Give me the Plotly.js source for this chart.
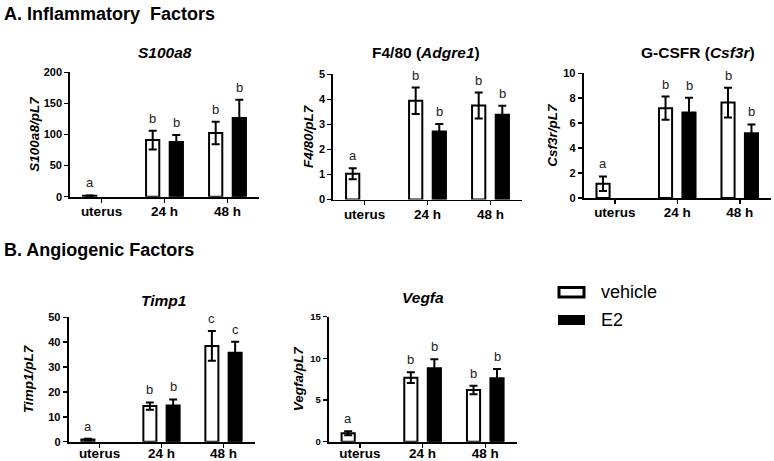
<!DOCTYPE html>
<html>
<head>
<meta charset="utf-8">
<script src="https://cdn.plot.ly/plotly-3.0.1.min.js"></script>
<style>html,body{margin:0;padding:0;background:#fff;}#chart{width:774px;height:461px;}</style>
</head>
<body>
<div id="chart"></div>
<script>
// ---------- data ----------
const categories = ['uterus', '24 h', '48 h'];

const s100a8Vehicle = [1.5, 91, 102.5];
const s100a8VehicleErr = [0.5, 15, 18];
const s100a8E2 = [null, 88, 126.5];
const s100a8E2Err = [null, 11, 29.5];
const s100a8VehicleLetters = ['a', 'b', 'b'];
const s100a8E2Letters = ['', 'b', 'b'];

const adgre1Vehicle = [1.03, 3.94, 3.75];
const adgre1VehicleErr = [0.22, 0.53, 0.52];
const adgre1E2 = [null, 2.72, 3.38];
const adgre1E2Err = [null, 0.3, 0.36];
const adgre1VehicleLetters = ['a', 'b', 'b'];
const adgre1E2Letters = ['', 'b', 'b'];

const csf3rVehicle = [1.15, 7.2, 7.65];
const csf3rVehicleErr = [0.58, 0.93, 1.2];
const csf3rE2 = [null, 6.85, 5.2];
const csf3rE2Err = [null, 1.18, 0.7];
const csf3rVehicleLetters = ['a', 'b', 'b'];
const csf3rE2Letters = ['', 'b', 'b'];

const timp1Vehicle = [0.9, 14.3, 38.5];
const timp1VehicleErr = [0.3, 1.5, 6];
const timp1E2 = [null, 14.6, 35.8];
const timp1E2Err = [null, 2.4, 4.4];
const timp1VehicleLetters = ['a', 'b', 'c'];
const timp1E2Letters = ['', 'b', 'c'];

const vegfaVehicle = [1.0, 7.68, 6.2];
const vegfaVehicleErr = [0.24, 0.64, 0.52];
const vegfaE2 = [null, 8.8, 7.6];
const vegfaE2Err = [null, 1.08, 1.12];
const vegfaVehicleLetters = ['a', 'b', 'b'];
const vegfaE2Letters = ['', 'b', 'b'];

const seriesNames = ['vehicle', 'E2'];
const yTitles = ['S100a8/pL7', 'F4/80/pL7', 'Csf3r/pL7', 'Timp1/pL7', 'Vegfa/pL7'];
const yMax = [200, 5, 10, 50, 15];
const yDtick = [50, 1, 2, 10, 5];

// ---------- layout helpers ----------
const W = 774, H = 461;
const px = v => v / W;
const py = v => 1 - v / H;
const FONT = 'Liberation Sans, Arial, Helvetica, sans-serif';

const panels = [
  {v: s100a8Vehicle, ve: s100a8VehicleErr, e: s100a8E2, ee: s100a8E2Err, vl: s100a8VehicleLetters, el: s100a8E2Letters,
   xd: [70, 259], yd: [196.7, 72.3], standoff: 1, tickSize: 11, xso: -3},
  {v: adgre1Vehicle, ve: adgre1VehicleErr, e: adgre1E2, ee: adgre1E2Err, vl: adgre1VehicleLetters, el: adgre1E2Letters,
   xd: [333, 522], yd: [199.5, 74.3], standoff: 2, tickSize: 11, xso: -3},
  {v: csf3rVehicle, ve: csf3rVehicleErr, e: csf3rE2, ee: csf3rE2Err, vl: csf3rVehicleLetters, el: csf3rE2Letters,
   xd: [583.5, 771], yd: [198, 73.3], standoff: 2, tickSize: 11, xso: -3},
  {v: timp1Vehicle, ve: timp1VehicleErr, e: timp1E2, ee: timp1E2Err, vl: timp1VehicleLetters, el: timp1E2Letters,
   xd: [68.5, 254.5], yd: [441.7, 317.3], standoff: 11, tickSize: 11, xso: -6},
  {v: vegfaVehicle, ve: vegfaVehicleErr, e: vegfaE2, ee: vegfaE2Err, vl: vegfaVehicleLetters, el: vegfaE2Letters,
   xd: [328.6, 516.6], yd: [441.7, 316.7], standoff: 3, tickSize: 9.5, xso: -6}
];

const traces = [];
const annotations = [];
const layout = {
  width: W, height: H,
  margin: {l: 0, r: 0, t: 0, b: 0},
  paper_bgcolor: '#fff', plot_bgcolor: '#fff',
  showlegend: false,
  barmode: 'group', bargap: 0.25, bargroupgap: 0.44,
  font: {family: FONT, color: '#000'},
  shapes: []
};

panels.forEach((p, i) => {
  const n = i === 0 ? '' : String(i + 1);
  const xa = 'x' + n, ya = 'y' + n;
  const errStyle = {type: 'data', visible: true, color: '#000', thickness: 2, width: 4};
  traces.push({
    type: 'bar', name: seriesNames[0], x: categories, y: p.v, xaxis: xa, yaxis: ya,
    marker: {color: '#fff', line: {color: '#000', width: 2}},
    error_y: Object.assign({array: p.ve}, errStyle), hoverinfo: 'y'
  });
  traces.push({
    type: 'bar', name: seriesNames[1], x: categories, y: p.e, xaxis: xa, yaxis: ya,
    marker: {color: '#000', line: {color: '#000', width: 2}},
    error_y: Object.assign({array: p.ee}, errStyle), hoverinfo: 'y'
  });
  layout['xaxis' + n] = {
    domain: [px(p.xd[0]), px(p.xd[1])], anchor: ya,
    type: 'category', categoryarray: categories, range: [-0.5, 2.5],
    showline: true, linecolor: '#000', linewidth: 1.8,
    ticks: 'outside', ticklen: 4, tickwidth: 1.5, tickcolor: '#000',
    ticklabelstandoff: p.xso,
    tickfont: {family: FONT, size: 13.5, color: '#000', weight: 'bold'},
    showgrid: false, zeroline: false, fixedrange: true
  };
  layout['yaxis' + n] = {
    domain: [py(p.yd[0]), py(p.yd[1])], anchor: xa,
    range: [0, yMax[i]], dtick: yDtick[i], tick0: 0,
    showline: true, linecolor: '#000', linewidth: 1.8,
    ticks: 'outside', ticklen: 4, tickwidth: 1.5, tickcolor: '#000',
    tickfont: {family: FONT, size: p.tickSize, color: '#000', weight: 'bold'},
    showgrid: false, zeroline: false, fixedrange: true,
    title: {text: '<b><i>' + yTitles[i] + '</i></b>', standoff: p.standoff,
            font: {family: FONT, size: 13.5, color: '#000'}}
  };
  // significance letters
  const addLetters = (vals, errs, letters, shift) => {
    vals.forEach((val, k) => {
      if (val === null || !letters[k]) return;
      annotations.push({
        xref: xa, yref: ya, x: k, y: val + (errs[k] || 0),
        text: letters[k], showarrow: false, xanchor: 'center', yanchor: 'bottom',
        xshift: shift, yshift: 3,
        font: {family: FONT, size: 13, color: '#222'}
      });
    });
  };
  addLetters(p.v, p.ve, p.vl, -11.75);
  addLetters(p.e, p.ee, p.el, 11.75);
});

// panel titles
const titles = [
  {t: '<b><i>S100a8</i></b>', x: 165, y: 53},
  {t: '<b>F4/80 (<i>Adgre1</i>)</b>', x: 426, y: 53},
  {t: '<b>G-CSFR (<i>Csf3r</i>)</b>', x: 698, y: 53},
  {t: '<b><i>Timp1</i></b>', x: 163, y: 300},
  {t: '<b><i>Vegfa</i></b>', x: 423, y: 297}
];
titles.forEach(o => annotations.push({
  xref: 'paper', yref: 'paper', x: px(o.x), y: py(o.y), text: o.t, showarrow: false,
  xanchor: 'center', yanchor: 'middle', font: {family: FONT, size: 15.5, color: '#000'}
}));

// section headers
annotations.push({xref: 'paper', yref: 'paper', x: px(2), y: py(14), text: '<b>A. Inflammatory\u00a0 Factors</b>',
  showarrow: false, xanchor: 'left', yanchor: 'middle', font: {family: FONT, size: 18, color: '#000'}});
annotations.push({xref: 'paper', yref: 'paper', x: px(2), y: py(250), text: '<b>B. Angiogenic Factors</b>',
  showarrow: false, xanchor: 'left', yanchor: 'middle', font: {family: FONT, size: 18, color: '#000'}});

// legend
layout.shapes.push({type: 'rect', xref: 'paper', yref: 'paper', x0: px(559), x1: px(584), y0: py(297), y1: py(287.5),
  fillcolor: '#fff', line: {color: '#000', width: 3}});
layout.shapes.push({type: 'rect', xref: 'paper', yref: 'paper', x0: px(558), x1: px(585), y0: py(325), y1: py(315),
  fillcolor: '#000', line: {color: '#000', width: 0}});
annotations.push({xref: 'paper', yref: 'paper', x: px(599), y: py(292), text: seriesNames[0], showarrow: false,
  xanchor: 'left', yanchor: 'middle', font: {family: FONT, size: 18, color: '#000'}});
annotations.push({xref: 'paper', yref: 'paper', x: px(599), y: py(320), text: seriesNames[1], showarrow: false,
  xanchor: 'left', yanchor: 'middle', font: {family: FONT, size: 18, color: '#000'}});

layout.annotations = annotations;

Plotly.newPlot('chart', traces, layout, {staticPlot: true, displayModeBar: false});
</script>
</body>
</html>
